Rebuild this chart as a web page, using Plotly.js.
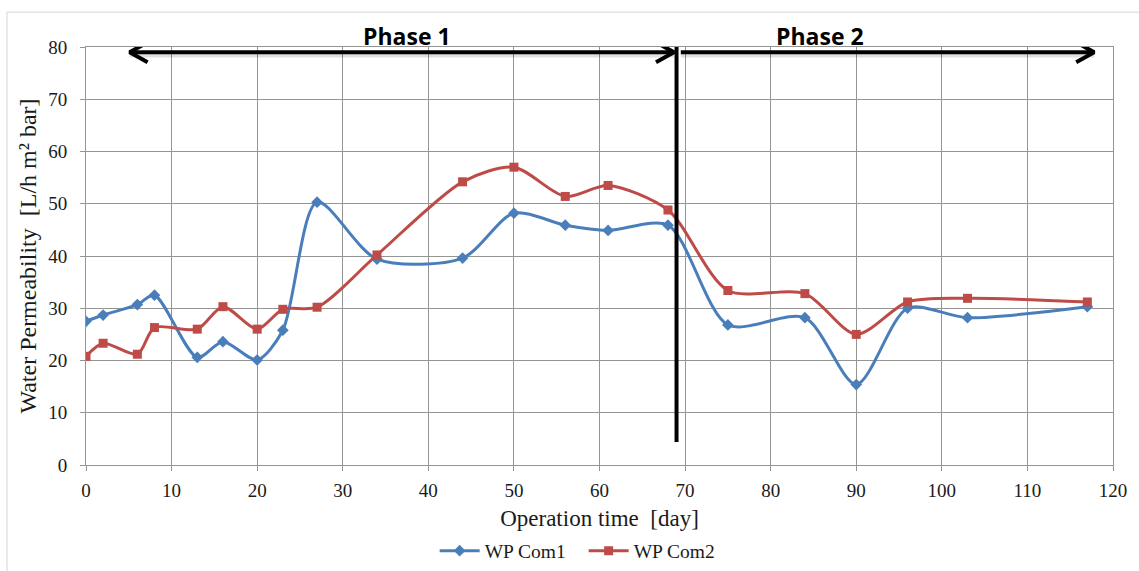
<!DOCTYPE html>
<html>
<head>
<meta charset="utf-8">
<script src="https://cdn.plot.ly/plotly-3.0.1.min.js"></script>
<style>
  html, body { margin: 0; padding: 0; background: #ffffff; }
  #chart { width: 1139px; height: 571px; }
</style>
</head>
<body>
<div id="chart"></div>
<script>
// Operation time (days) at which water permeability was measured
const days = [0, 2, 6, 8, 13, 16, 20, 23, 27, 34, 44, 50, 56, 61, 68, 75, 84, 90, 96, 103, 117];

// Water permeability [L/h m² bar] for each module
const wpCom1 = [27.5, 28.7, 30.7, 32.5, 20.6, 23.6, 20.1, 25.8, 50.3, 39.4, 39.6, 48.2, 45.9, 44.9, 45.9, 26.8, 28.2, 15.4, 30.0, 28.2, 30.3];
const wpCom2 = [20.8, 23.3, 21.2, 26.3, 26.0, 30.3, 26.0, 29.8, 30.2, 40.2, 54.2, 57.0, 51.4, 53.5, 48.8, 33.4, 32.8, 25.0, 31.2, 31.9, 31.2];

const seriesNames = ['WP Com1', 'WP Com2'];
const xTicks = [0, 10, 20, 30, 40, 50, 60, 70, 80, 90, 100, 110, 120];
const yTicks = [0, 10, 20, 30, 40, 50, 60, 70, 80];

// Phase annotations
const phaseBoundary = 69;
const phaseLabels = ['Phase 1', 'Phase 2'];
const phase1Span = [5.1, 68.7];
const phase2Span = [69.5, 117.8];
const phaseArrowLevel = 79;
const phaseLabelX = [37.5, 85.8];

const blue = '#4a7ebb';
const red = '#be4b48';
const serif = '"Liberation Serif", "Times New Roman", serif';

// helper: a decorative line drawn over the axes (not clipped)
function guide(x, y, width, color) {
  return {
    x: x, y: y, mode: 'lines', type: 'scatter', cliponaxis: false,
    line: {color: color, width: width, shape: 'linear'},
    showlegend: false, hoverinfo: 'skip'
  };
}

// arrow shaft (with soft shadow) + open chevron head
function shaft(x0, x1, y) {
  return [
    guide([x0, x1], [y - 0.55, y - 0.55], 5, 'rgba(0,0,0,0.12)'),
    guide([x0, x1], [y, y], 4, '#000000')
  ];
}
function head(tip, y, dir) {
  const back = tip - dir * 2.1;
  return guide([back, tip, back], [y + 1.9, y, y - 1.9], 4, '#000000');
}

const traces = [
  {
    x: days, y: wpCom1, name: seriesNames[0], type: 'scatter', mode: 'lines+markers',
    line: {color: blue, width: 3, shape: 'spline', smoothing: 0.8},
    marker: {symbol: 'diamond', size: 9, color: blue}
  },
  {
    x: days, y: wpCom2, name: seriesNames[1], type: 'scatter', mode: 'lines+markers',
    line: {color: red, width: 3, shape: 'spline', smoothing: 0.8},
    marker: {symbol: 'square', size: 9, color: red}
  },
  guide([phaseBoundary, phaseBoundary], [4.4, 86], 4, '#000000'),
  ...shaft(phase1Span[0], phase1Span[1], phaseArrowLevel),
  head(phase1Span[0], phaseArrowLevel, -1),
  head(phase1Span[1], phaseArrowLevel, 1),
  ...shaft(phase2Span[0], phase2Span[1], phaseArrowLevel),
  head(phase2Span[1], phaseArrowLevel, 1)
];

const axisCommon = {
  showgrid: true, gridcolor: '#949494', gridwidth: 1,
  showline: true, linecolor: '#949494', linewidth: 1, mirror: true,
  ticks: 'outside', ticklen: 5, tickcolor: '#949494', tickwidth: 1,
  zeroline: false, automargin: false,
  tickfont: {family: serif, size: 19, color: '#1a1a1a'}
};

const layout = {
  width: 1139, height: 571,
  margin: {l: 86, r: 26, t: 47, b: 106, autoexpand: false},
  paper_bgcolor: '#ffffff', plot_bgcolor: '#ffffff',
  showlegend: true,
  legend: {
    orientation: 'h', xref: 'container', yref: 'container',
    x: 0.3816, xanchor: 'left', y: 0.035, yanchor: 'middle',
    font: {family: serif, size: 19.5, color: '#1a1a1a'},
    itemwidth: 40, entrywidth: 94, entrywidthmode: 'pixels',
    tracegroupgap: 0, bgcolor: 'rgba(0,0,0,0)'
  },
  xaxis: Object.assign({}, axisCommon, {
    range: [0, 120], tickvals: xTicks, ticktext: xTicks.map(String),
    ticklabelstandoff: 3,
    title: {text: 'Operation time  [day]', font: {family: serif, size: 23, color: '#1a1a1a'}, standoff: 10}
  }),
  yaxis: Object.assign({}, axisCommon, {
    range: [0, 80], tickvals: yTicks, ticktext: yTicks.map(String),
    ticklabelstandoff: 9,
    title: {text: 'Water Permeability  [L/h m² bar]', font: {family: serif, size: 24, color: '#1a1a1a'}, standoff: 4}
  }),
  annotations: phaseLabels.map((t, i) => ({
    x: phaseLabelX[i], y: phaseArrowLevel, xref: 'x', yref: 'y',
    text: '<b>' + t + '</b>', showarrow: false, yanchor: 'bottom', yshift: -2,
    font: {family: '"Open Sans", "Liberation Sans", sans-serif', size: 23, color: '#000000'}
  })),
  shapes: [{
    type: 'rect', xref: 'paper', yref: 'paper',
    x0: -0.077, x1: 1.05, y0: -0.27, y1: 1.083,
    line: {color: '#e4e4dc', width: 1.5}, fillcolor: 'rgba(0,0,0,0)', layer: 'below'
  }]
};

Plotly.newPlot('chart', traces, layout, {staticPlot: true, displayModeBar: false});
</script>
</body>
</html>
